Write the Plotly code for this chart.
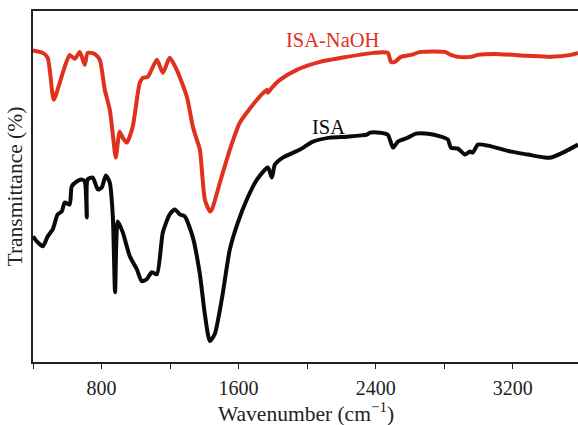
import plotly.graph_objects as go

# ISA-NaOH spectrum (wavenumber cm-1, transmittance a.u.)
naoh_wn = [400, 457, 486, 521, 556, 585, 614, 644, 673, 702, 719, 760, 790, 819, 848, 866,
           883, 906, 924, 947, 982, 1023, 1041, 1070, 1123, 1158, 1198, 1239, 1298, 1333,
           1356, 1374, 1403, 1432, 1444, 1491, 1549, 1607, 1707, 1765, 1771, 1794, 1841,
           1940, 2075, 2232, 2385, 2471, 2489, 2512, 2547, 2606, 2664, 2804, 2839, 2880,
           2956, 2997, 3096, 3289, 3423, 3540, 3581]
naoh_t = [78.1, 77.5, 76.25, 65.75, 70, 74, 77, 76, 77.75, 74.5, 77.5, 77.25, 75.75, 68.25,
          63.25, 57, 51.25, 57.75, 56.25, 55, 59, 70, 71.25, 71.5, 75.75, 72.5, 76.25, 73.25,
          66.5, 59, 55.75, 53.25, 40.75, 37.75, 38.25, 45, 53.25, 60, 65.75, 68.25, 67.5,
          68.75, 70.75, 73.25, 75.25, 76.5, 77.5, 77.5, 75.25, 75.25, 76.5, 77, 77.75, 77.75,
          77, 76.5, 76.5, 77, 77.25, 76.75, 76.5, 77, 77.5]

# ISA spectrum
isa_wn = [400, 422, 457, 486, 515, 544, 568, 585, 614, 626, 655, 684, 702, 714, 719, 749,
          778, 801, 825, 848, 866, 879, 895, 924, 965, 1006, 1035, 1064, 1093, 1123, 1158,
          1198, 1228, 1257, 1286, 1333, 1374, 1403, 1432, 1461, 1502, 1549, 1596, 1648,
          1707, 1771, 1794, 1812, 1858, 1958, 2034, 2133, 2232, 2349, 2367, 2425, 2471,
          2501, 2530, 2588, 2635, 2705, 2781, 2822, 2839, 2880, 2921, 2950, 2967, 2997,
          3055, 3190, 3289, 3388, 3423, 3505, 3581]
isa_t = [31.5, 30.25, 29, 31.5, 33.25, 37, 37.75, 40, 39.5, 44, 45.25, 45.75, 45.25, 36.25,
         45.75, 46.25, 43.25, 43.75, 46.75, 45, 36.5, 17.5, 35.25, 32.5, 26.5, 23.25, 20.25,
         20.75, 22.5, 22, 32.5, 37, 38.25, 37, 36.5, 31.25, 22, 12, 5.25, 7, 15.75, 28.25,
         35, 40.75, 45.75, 48.75, 46.25, 49.5, 51.25, 53.25, 55.25, 56.25, 56.5, 57, 57.5,
         57.5, 57, 53.75, 55.25, 56.25, 57.25, 57.25, 56.5, 55.75, 53.75, 53.5, 52, 52.75,
         52.5, 54.5, 54.25, 52.75, 52, 51.25, 51.25, 52.75, 54.5]

tick_vals = [400, 800, 1200, 1600, 2000, 2400, 2800, 3200]
tick_text = ["", "800", "", "1600", "", "2400", "", "3200"]

FONT = "Liberation Serif"
RED = "#e0301e"
BLACK = "#0a0a0a"

fig = go.Figure()
fig.add_trace(go.Scatter(x=naoh_wn, y=naoh_t, mode="lines", name="ISA-NaOH",
                         line=dict(color=RED, width=4, shape="spline", smoothing=0.6)))
fig.add_trace(go.Scatter(x=isa_wn, y=isa_t, mode="lines", name="ISA",
                         line=dict(color=BLACK, width=4, shape="spline", smoothing=0.6)))

fig.add_annotation(x=2150, y=80.8, text="ISA-NaOH", showarrow=False,
                   font=dict(family=FONT, size=20.5, color=RED))
fig.add_annotation(x=2127, y=59, text="ISA", showarrow=False,
                   font=dict(family=FONT, size=20.5, color=BLACK))
fig.add_annotation(xref="paper", yref="paper", x=0, y=0.5, xanchor="right",
                   yanchor="middle", xshift=-5, textangle=-90, showarrow=False,
                   text="Transmittance (%)", font=dict(family=FONT, size=21.5, color="#222"))
fig.add_annotation(xref="paper", yref="paper", x=0.5, y=0, xanchor="center",
                   yanchor="top", yshift=-35, showarrow=False,
                   text="Wavenumber (cm<sup>−1</sup>)", font=dict(family=FONT, size=21.5, color="#222"))

fig.update_layout(
    width=578, height=425,
    margin=dict(l=33, r=0, t=11, b=63),
    paper_bgcolor="white", plot_bgcolor="white",
    showlegend=False,
    font=dict(family=FONT, size=20, color="#222"),
    xaxis=dict(range=[400, 3581], tickvals=tick_vals, ticktext=tick_text,
               ticks="outside", ticklen=5, tickwidth=1.3, tickcolor="#222",
               showline=True, linecolor="#222", linewidth=1.5, mirror=True,
               showgrid=False, zeroline=False, ticklabelstandoff=2),
    yaxis=dict(range=[0, 88], showticklabels=False, ticks="",
               showline=True, linecolor="#222", linewidth=1.5, mirror=False,
               showgrid=False, zeroline=False),
)

fig.write_html("out.html")
